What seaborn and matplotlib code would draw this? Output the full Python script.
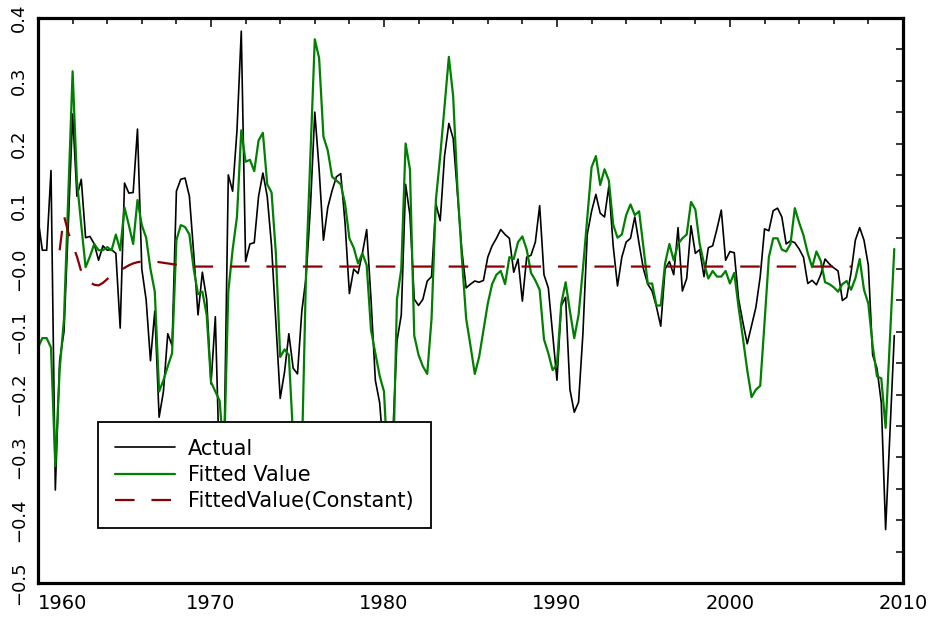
import numpy as np
import pandas as pd
import matplotlib
matplotlib.use("Agg")
import matplotlib.pyplot as plt
import seaborn as sns
from matplotlib.ticker import MultipleLocator, FixedLocator

# ---------------- data (quarterly, starting 1960Q1) ----------------
start_year = 1960.0
quarter_step = 0.25

actual = [
    0.080, 0.030, 0.030, 0.157, -0.352, -0.146, -0.100, 0.070, 0.247, 0.116,
    0.143, 0.050, 0.052, 0.040, 0.014, 0.037, 0.030, 0.031, 0.025, -0.094,
    0.137, 0.121, 0.122, 0.223, 0.000, -0.049, -0.146, -0.067, -0.236, -0.195,
    -0.103, -0.122, 0.124, 0.143, 0.145, 0.116, 0.025, -0.073, -0.005, -0.048,
    -0.183, -0.076, -0.330, -0.300, 0.150, 0.124, 0.220, 0.379, 0.012, 0.040,
    0.042, 0.116, 0.153, 0.116, 0.037, -0.085, -0.206, -0.164, -0.103, -0.158,
    -0.167, -0.067, -0.012, 0.100, 0.250, 0.159, 0.046, 0.098, 0.125, 0.147,
    0.152, 0.073, -0.039, 0.000, -0.007, 0.025, 0.063, -0.048, -0.177, -0.213,
    -0.300, -0.330, -0.270, -0.115, -0.073, 0.135, 0.086, -0.048, -0.058, -0.048,
    -0.019, -0.012, 0.104, 0.077, 0.180, 0.232, 0.208, 0.120, 0.030, -0.030,
    -0.024, -0.019, -0.021, -0.018, 0.019, 0.037, 0.049, 0.063, 0.055, 0.049,
    -0.005, 0.016, -0.051, 0.019, 0.022, 0.043, 0.101, -0.009, -0.030, -0.103,
    -0.177, -0.058, -0.045, -0.192, -0.228, -0.212, -0.103, 0.055, 0.092, 0.119,
    0.089, 0.083, 0.132, 0.037, -0.027, 0.019, 0.043, 0.049, 0.083, 0.040,
    0.000, -0.024, -0.035, -0.060, -0.091, 0.000, 0.012, -0.009, 0.066, -0.035,
    -0.015, 0.069, 0.025, 0.031, -0.012, 0.034, 0.037, 0.064, 0.094, 0.014,
    0.028, 0.026, -0.048, -0.085, -0.119, -0.090, -0.061, -0.012, 0.064, 0.061,
    0.093, 0.097, 0.083, 0.040, 0.045, 0.042, 0.032, 0.019, -0.023, -0.018,
    -0.025, -0.009, 0.016, 0.008, 0.002, -0.003, -0.050, -0.045, -0.006, 0.046,
    0.066, 0.046, 0.006, -0.137, -0.158, -0.213, -0.415, -0.260, -0.106,
]

fitted = [
    -0.125, -0.110, -0.110, -0.125, -0.314, -0.160, -0.080, 0.120, 0.315, 0.140,
    0.070, 0.003, 0.020, 0.040, 0.030, 0.030, 0.035, 0.030, 0.055, 0.030,
    0.098, 0.070, 0.040, 0.110, 0.070, 0.050, 0.000, -0.036, -0.195, -0.177,
    -0.155, -0.134, 0.046, 0.070, 0.067, 0.055, 0.000, -0.040, -0.036, -0.073,
    -0.180, -0.195, -0.210, -0.300, -0.036, 0.031, 0.083, 0.221, 0.171, 0.174,
    0.156, 0.205, 0.217, 0.135, 0.122, 0.025, -0.140, -0.128, -0.137, -0.270,
    -0.350, -0.300, 0.000, 0.183, 0.366, 0.336, 0.211, 0.189, 0.147, 0.141,
    0.135, 0.104, 0.049, 0.034, 0.009, 0.025, 0.006, -0.097, -0.134, -0.170,
    -0.195, -0.330, -0.350, -0.048, 0.000, 0.200, 0.159, -0.106, -0.137, -0.155,
    -0.167, -0.079, 0.110, 0.180, 0.260, 0.338, 0.275, 0.128, 0.019, -0.079,
    -0.122, -0.167, -0.140, -0.097, -0.055, -0.024, -0.009, -0.003, -0.024, 0.019,
    0.016, 0.043, 0.052, 0.031, -0.006, -0.018, -0.033, -0.112, -0.134, -0.161,
    -0.152, -0.055, -0.021, -0.067, -0.110, -0.073, 0.000, 0.080, 0.162, 0.180,
    0.134, 0.159, 0.141, 0.071, 0.050, 0.055, 0.086, 0.103, 0.086, 0.092,
    0.034, -0.023, -0.023, -0.058, -0.058, 0.009, 0.040, 0.014, 0.040, 0.049,
    0.055, 0.107, 0.095, 0.040, 0.009, -0.015, -0.003, -0.012, -0.012, -0.003,
    -0.023, -0.006, -0.061, -0.110, -0.161, -0.204, -0.192, -0.186, -0.085, 0.019,
    0.049, 0.049, 0.031, 0.028, 0.040, 0.097, 0.074, 0.054, 0.025, 0.003,
    0.028, 0.013, -0.021, -0.024, -0.029, -0.036, -0.024, -0.019, -0.033, -0.015,
    0.016, -0.033, -0.055, -0.122, -0.171, -0.174, -0.253, -0.109, 0.032,
]

# constant-only model, starts at the 6th quarter (1961Q2)
const_start_year = 1961.25
fitted_const = [
    0.030, 0.085, 0.058, 0.038, 0.020, -0.004, -0.014, -0.021, -0.025, -0.026,
    -0.022, -0.016, -0.010, -0.006, -0.002, 0.002, 0.006, 0.009, 0.011, 0.012,
    0.012, 0.012, 0.012, 0.011, 0.010, 0.009, 0.008, 0.007, 0.006, 0.005,
    0.004, 0.004, 0.004, 0.004, 0.004, 0.004, 0.004, 0.004, 0.004, 0.004,
    0.004, 0.004, 0.004, 0.004, 0.004, 0.004, 0.004, 0.004, 0.004, 0.004,
    0.004, 0.004, 0.004, 0.004, 0.004, 0.004, 0.004, 0.004, 0.004, 0.004,
    0.004, 0.004, 0.004, 0.004, 0.004, 0.004, 0.004, 0.004, 0.004, 0.004,
    0.004, 0.004, 0.004, 0.004, 0.004, 0.004, 0.004, 0.004, 0.004, 0.004,
    0.004, 0.004, 0.004, 0.004, 0.004, 0.004, 0.004, 0.004, 0.004, 0.004,
    0.004, 0.004, 0.004, 0.004, 0.004, 0.004, 0.004, 0.004, 0.004, 0.004,
    0.004, 0.004, 0.004, 0.004, 0.004, 0.004, 0.004, 0.004, 0.004, 0.004,
    0.004, 0.004, 0.004, 0.004, 0.004, 0.004, 0.004, 0.004, 0.004, 0.004,
    0.004, 0.004, 0.004, 0.004, 0.004, 0.004, 0.004, 0.004, 0.004, 0.004,
    0.004, 0.004, 0.004, 0.004, 0.004, 0.004, 0.004, 0.004, 0.004, 0.004,
    0.004, 0.004, 0.004, 0.004, 0.004, 0.004, 0.004, 0.004, 0.004, 0.004,
    0.004, 0.004, 0.004, 0.004, 0.004, 0.004, 0.004, 0.004, 0.004, 0.004,
    0.004, 0.004, 0.004, 0.004, 0.004, 0.004, 0.004, 0.004, 0.004, 0.004,
    0.004, 0.004, 0.004, 0.004, 0.004, 0.004, 0.004, 0.004, 0.004, 0.004,
    0.004, 0.004, 0.004, 0.004,
]

series_labels = ["Actual", "Fitted Value", "FittedValue(Constant)"]
x_tick_years = [1960, 1970, 1980, 1990, 2000, 2010]
y_tick_values = [-0.5, -0.4, -0.3, -0.2, -0.1, 0.0, 0.1, 0.2, 0.3, 0.4]
y_tick_labels = ["\u22120.5", "\u22120.4", "\u22120.3", "\u22120.2", "\u22120.1",
                 "\u22120.0", "0.1", "0.2", "0.3", "0.4"]

# ---------------- build frames ----------------
years = start_year + quarter_step * np.arange(len(actual))
const_years = const_start_year + quarter_step * np.arange(len(fitted_const))
df = pd.DataFrame({"year": years, "actual": actual, "fitted": fitted})
dfc = pd.DataFrame({"year": const_years, "const": fitted_const})

# ---------------- plot ----------------
sns.set_theme(style="white")
plt.rcParams["font.family"] = ["DejaVu Sans"]

fig = plt.figure(figsize=(9.32, 6.19), dpi=100)
ax = fig.add_axes([0.0408, 0.0582, 0.928, 0.9128])

sns.lineplot(data=df, x="year", y="actual", color="black", linewidth=1.2,
             label=series_labels[0], ax=ax, sort=False)
sns.lineplot(data=df, x="year", y="fitted", color="#008000", linewidth=1.6,
             label=series_labels[1], ax=ax, sort=False)
sns.lineplot(data=dfc, x="year", y="const", color="#8b0000", linewidth=1.6,
             label=series_labels[2], ax=ax, sort=False)
ax.lines[-1].set_linestyle((0, (8.8, 7.6)))

ax.set_xlim(x_tick_years[0], x_tick_years[-1])
ax.set_ylim(y_tick_values[0], y_tick_values[-1])
ax.set_xlabel("")
ax.set_ylabel("")

ax.xaxis.set_major_locator(FixedLocator(x_tick_years))
ax.xaxis.set_minor_locator(MultipleLocator(2))
ax.set_xticklabels([str(y) for y in x_tick_years], fontsize=14)
ax.get_xticklabels()[0].set_horizontalalignment("left")

ax.yaxis.set_major_locator(FixedLocator(y_tick_values))
ax.yaxis.set_minor_locator(MultipleLocator(0.05))
ax.set_yticklabels(y_tick_labels, fontsize=13, rotation=90, va="center")

ax.tick_params(axis="both", which="both", direction="in", top=True, right=True,
               width=1.1, color="black", labelcolor="black")
ax.tick_params(axis="x", which="major", length=6.5, pad=8)
ax.tick_params(axis="x", which="minor", length=4.5)
ax.tick_params(axis="y", which="both", length=5, pad=7)

for sp in ax.spines.values():
    sp.set_linewidth(2.3)
    sp.set_color("black")

leg = ax.legend(loc="upper left", bbox_to_anchor=(0.0694, 0.285), fontsize=15,
                frameon=True, fancybox=False, shadow=False, framealpha=1,
                edgecolor="black", facecolor="white", borderpad=0.8,
                handlelength=2.9, handletextpad=0.63, labelspacing=0.3,
                borderaxespad=0)
leg.get_frame().set_linewidth(1.3)
for t in leg.get_texts():
    t.set_color("black")

fig.savefig("out.png", dpi=100, facecolor="white")
